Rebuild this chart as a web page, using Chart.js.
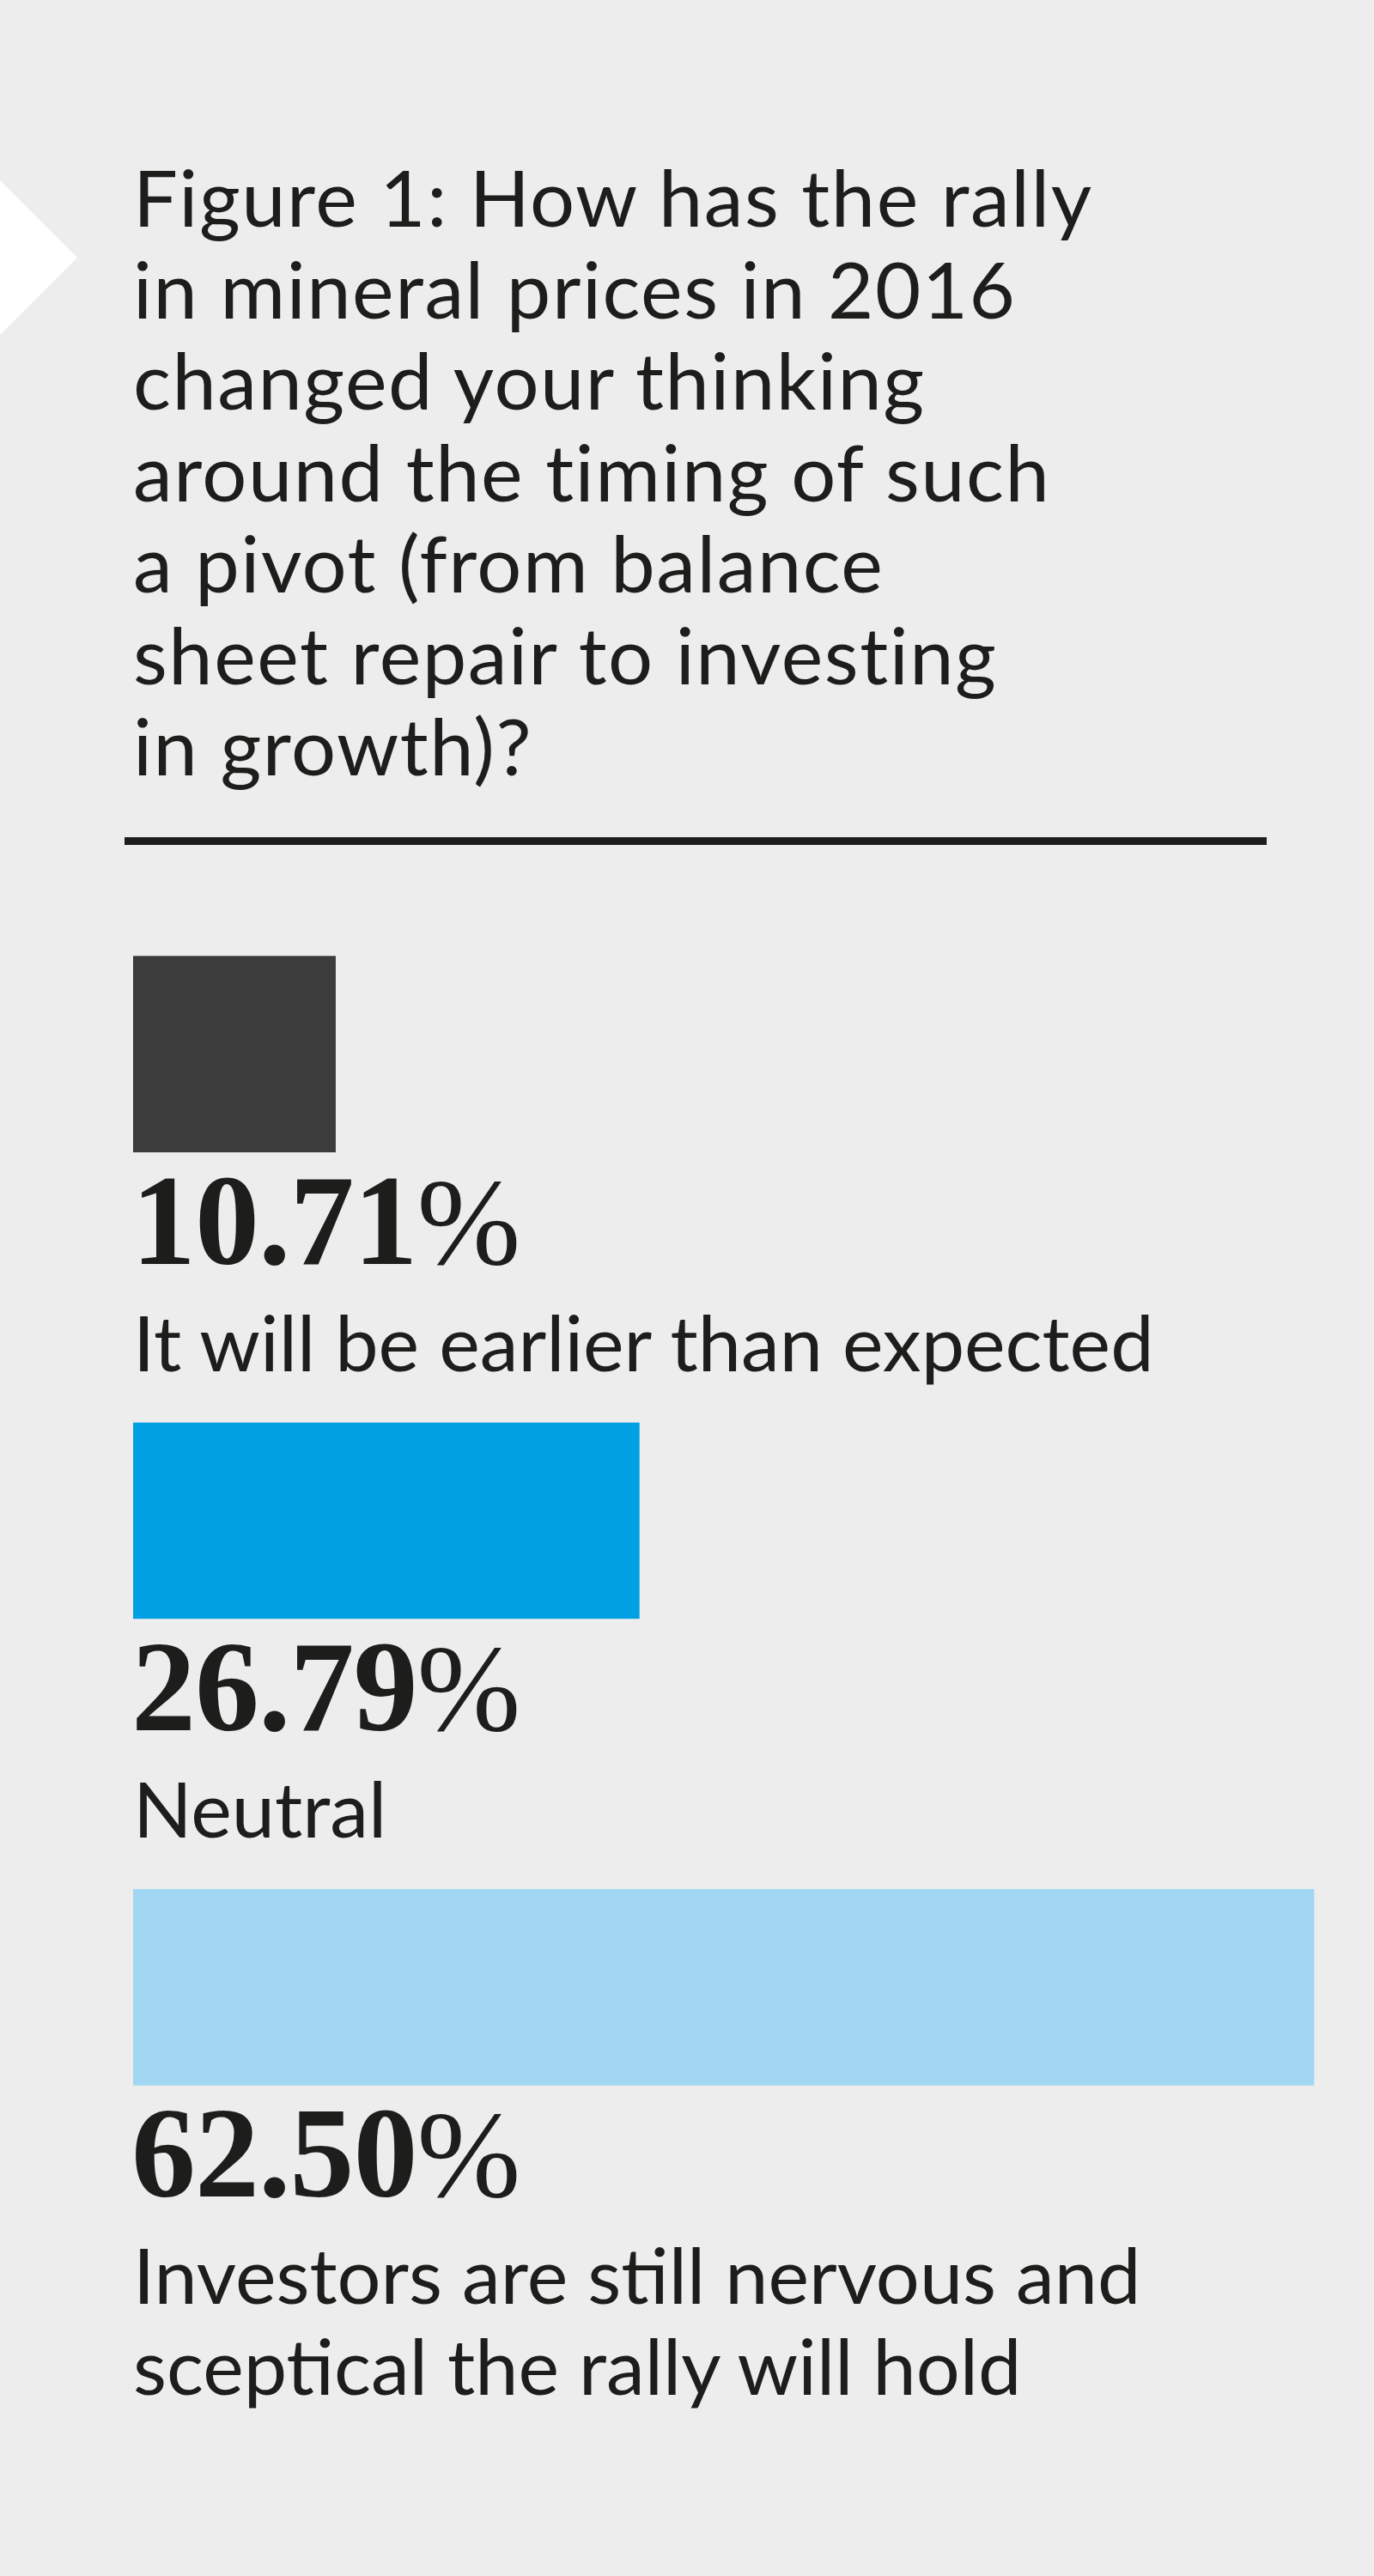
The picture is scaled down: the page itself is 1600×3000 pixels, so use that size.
<!DOCTYPE html>
<html>
<head>
<meta charset="utf-8">
<script src="https://cdn.jsdelivr.net/npm/chart.js@4.4.1/dist/chart.umd.min.js"></script>
<style>
  html, body { margin: 0; padding: 0; }
  body {
    width: 1600px; height: 3000px; position: relative; overflow: hidden;
    background: #ededed; color: #1d1d1b;
    font-family: Lato, "Open Sans", sans-serif;
  }
  #arrow {
    position: absolute; left: 0; top: 210px; width: 90px; height: 180px;
    background: #ffffff; clip-path: polygon(0 0, 100% 50%, 0 100%);
  }
  #title {
    position: absolute; left: 155px; top: 0;
    font-size: 92px; letter-spacing: 1.5px; line-height: 106.5px; white-space: nowrap;
  }
  #rule {
    position: absolute; left: 145px; top: 975px; width: 1330px; height: 9px;
    background: #1d1d1b;
  }
  #chartBox { position: absolute; left: 0; top: 956px; width: 1600px; height: 1630px; }
  .pct { position: absolute; white-space: nowrap; line-height: 1; }
  .pct .num { font-family: "Liberation Serif", serif; font-weight: bold; font-size: 150px; letter-spacing: -1px; }
  .pct .sign { font-family: "Liberation Serif", serif; font-weight: normal; font-size: 145px; }
  .desc { position: absolute; white-space: nowrap; font-size: 90px; line-height: 106px; }
  .bl { display: inline-block; width: 0; height: 0; vertical-align: baseline; }
</style>
</head>
<body>
<div id="arrow"></div>
<div id="title"><span class="bl"></span>Figure 1: How has the rally<br>in mineral prices in 2016<br>changed your thinking<br>around the timing of such<br>a pivot (from balance<br>sheet repair to investing<br>in growth)?</div>
<div id="rule"></div>
<div id="chartBox"><canvas id="answerChart"></canvas></div>

<script>
var categories = [
  "It will be earlier than expected",
  "Neutral",
  ["Investors are still nervous and", "sceptical the rally will hold"]
];
var shares = [10.71, 26.79, 62.50];
var barColors = ["#3c3c3c", "#00a0e3", "#a1d7f2"];

// put an element so that the baseline of its first line sits at y
function placeAtBaseline(el, left, y) {
  el.style.left = left + "px";
  el.style.top = "0px";
  var marker = el.querySelector(".bl");
  var off = marker.getBoundingClientRect().top - el.getBoundingClientRect().top;
  el.style.top = (y - off) + "px";
}

placeAtBaseline(document.getElementById("title"), 155, 264);

var ctx = document.getElementById("answerChart").getContext("2d");
var answerChart = new Chart(ctx, {
  type: "bar",
  data: {
    labels: categories,
    datasets: [
      {
        data: shares,
        backgroundColor: barColors,
        borderWidth: 0,
        barThickness: 228,
      },
    ],
  },
  options: {
    indexAxis: "y",
    responsive: true,
    maintainAspectRatio: false,
    animation: false,
    layout: { padding: { left: 155, right: 15, top: 0, bottom: 0 } },
    plugins: { legend: { display: false }, tooltip: { enabled: false } },
    scales: {
      x: { display: false, min: 0, max: 65 },
      y: { display: false },
    },
  },
});

// labels under each bar, placed from the bar elements
var box = document.getElementById("chartBox");
var bars = answerChart.getDatasetMeta(0).data;
bars.forEach(function (bar, i) {
  var bottom = box.offsetTop + bar.y + bar.height / 2;
  var left = answerChart.chartArea.left;

  var pct = document.createElement("div");
  pct.className = "pct";
  pct.innerHTML = '<span class="bl"></span><span class="num">' +
    shares[i].toFixed(2) + '</span><span class="sign">%</span>';
  document.body.appendChild(pct);
  placeAtBaseline(pct, left - 2, bottom + 130);

  var lines = [].concat(categories[i]);
  var desc = document.createElement("div");
  desc.className = "desc";
  desc.innerHTML = '<span class="bl"></span>' + lines.join("<br>");
  document.body.appendChild(desc);
  placeAtBaseline(desc, left, bottom + 255);
});
</script>
</body>
</html>
